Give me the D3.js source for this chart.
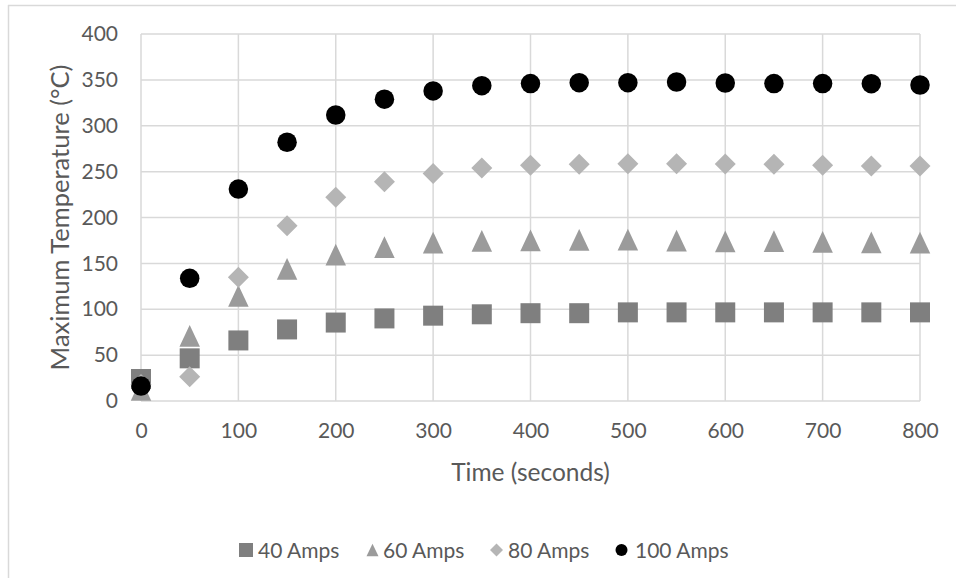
<!DOCTYPE html>
<html>
<head>
<meta charset="utf-8">
<script src="https://cdn.jsdelivr.net/npm/d3@7"></script>
<style>
  html, body { margin: 0; padding: 0; background: #fff; }
  svg { display: block; font-family: Lato, "Open Sans", sans-serif; }
</style>
</head>
<body>
<svg id="chart" width="956" height="578"></svg>
<script>
// ---- data ----
const times = [0, 50, 100, 150, 200, 250, 300, 350, 400, 450, 500, 550, 600, 650, 700, 750, 800];
const amps40 = [24, 46.5, 66, 78, 85.5, 90, 93, 94.5, 95.7, 95.7, 96.6, 96.6, 96.6, 96.6, 96.6, 96.6, 96.6];
const amps60 = [12, 71, 114.6, 144, 159.5, 167.7, 172.5, 174.6, 175, 175.7, 175.8, 174.7, 174, 174.2, 173.5, 173, 172.5];
const amps80 = [18, 26.5, 135, 191, 222, 239, 248, 254, 257, 258, 258.6, 258.6, 258.3, 258, 257, 256, 256];
const amps100 = [16.3, 133.7, 231, 282, 311.7, 329, 338, 343.7, 346, 347, 347, 347.7, 346.6, 346, 346, 345.8, 344.4];
const seriesNames = ["40 Amps", "60 Amps", "80 Amps", "100 Amps"];
const xTicks = [0, 100, 200, 300, 400, 500, 600, 700, 800];
const yTicks = [0, 50, 100, 150, 200, 250, 300, 350, 400];
const xTitle = "Time (seconds)";
const yTitle = "Maximum Temperature (°C)";

// ---- layout ----
const svg = d3.select("#chart");
const pL = 141, pR = 920, pT = 34, pB = 401;
const x = d3.scaleLinear().domain([0, 800]).range([pL, pR]);
const y = d3.scaleLinear().domain([0, 400]).range([pB, pT]);
const gridColor = "#d9d9d9";
const textColor = "#595959";

// chart border (top and left visible)
svg.append("line").attr("x1", 8).attr("x2", 956).attr("y1", 5.5).attr("y2", 5.5)
  .attr("stroke", gridColor).attr("stroke-width", 1.5);
svg.append("line").attr("x1", 8.5).attr("x2", 8.5).attr("y1", 5).attr("y2", 578)
  .attr("stroke", gridColor).attr("stroke-width", 1.5);

// gridlines
const grid = svg.append("g");
grid.append("g").selectAll("line").data(yTicks).join("line")
  .attr("x1", pL).attr("x2", pR)
  .attr("y1", d => y(d)).attr("y2", d => y(d))
  .attr("stroke", gridColor).attr("stroke-width", 1.5);
grid.append("g").selectAll("line").data(xTicks).join("line")
  .attr("y1", pT).attr("y2", pB)
  .attr("x1", d => x(d)).attr("x2", d => x(d))
  .attr("stroke", gridColor).attr("stroke-width", 1.5);

// axes (labels only, via d3 axes)
const yAxis = svg.append("g").attr("transform", `translate(${pL},0)`)
  .call(d3.axisLeft(y).tickValues(yTicks).tickSize(0).tickPadding(23));
const xAxis = svg.append("g").attr("transform", `translate(0,${pB})`)
  .call(d3.axisBottom(x).tickValues(xTicks).tickSize(0).tickPadding(22));
[yAxis, xAxis].forEach(a => {
  a.select(".domain").remove();
  a.selectAll("text").attr("fill", textColor).style("font-size", "21px")
    .style("font-family", "Lato, 'Open Sans', sans-serif");
});

// axis titles
svg.append("text").attr("x", (pL + pR) / 2).attr("y", 481)
  .attr("text-anchor", "middle").attr("fill", textColor).style("font-size", "24.5px")
  .text(xTitle);
svg.append("text").attr("transform", `translate(69,${(pT + pB) / 2}) rotate(-90)`)
  .attr("text-anchor", "middle").attr("fill", textColor).style("font-size", "25.5px")
  .text(yTitle);

// symbol types (size = full width of marker)
const sqType = { draw(ctx, s) { const h = s / 2; ctx.moveTo(-h, -h); ctx.lineTo(h, -h); ctx.lineTo(h, h); ctx.lineTo(-h, h); ctx.closePath(); } };
const triType = { draw(ctx, s) { const h = s / 2; const hh = s * 0.53; ctx.moveTo(0, -hh); ctx.lineTo(h, hh); ctx.lineTo(-h, hh); ctx.closePath(); } };
const diaType = { draw(ctx, s) { const h = s / 2; ctx.moveTo(0, -h); ctx.lineTo(h, 0); ctx.lineTo(0, h); ctx.lineTo(-h, 0); ctx.closePath(); } };
const cirType = { draw(ctx, s) { const r = s / 2; ctx.moveTo(r, 0); ctx.arc(0, 0, r, 0, 2 * Math.PI); } };

const series = [
  { name: seriesNames[0], values: amps40, type: sqType, size: 20, legendSize: 14, color: "#7f7f7f" },
  { name: seriesNames[1], values: amps60, type: triType, size: 20.5, legendSize: 12, color: "#9b9b9b" },
  { name: seriesNames[2], values: amps80, type: diaType, size: 21, legendSize: 13, color: "#b5b5b5" },
  { name: seriesNames[3], values: amps100, type: cirType, size: 19.5, legendSize: 12, color: "#000000" }
];

const marks = svg.append("g");
series.forEach(s => {
  marks.append("g").selectAll("path").data(times.map((t, i) => [t, s.values[i]])).join("path")
    .attr("transform", d => `translate(${x(d[0])},${y(d[1])})`)
    .attr("d", d3.symbol().type(s.type).size(s.size))
    .attr("fill", s.color);
});

// legend
const legendX = [246, 372.5, 496.5, 621.5];
const legendTextX = [258, 383, 508, 635];
const legendY = 550;
const lg = svg.append("g");
series.forEach((s, i) => {
  lg.append("path").attr("transform", `translate(${legendX[i]},${legendY})`)
    .attr("d", d3.symbol().type(s.type).size(s.legendSize)).attr("fill", s.color);
  lg.append("text").attr("x", legendTextX[i]).attr("y", legendY + 7.5)
    .attr("fill", textColor).style("font-size", "21px").text(s.name);
});
</script>
</body>
</html>
